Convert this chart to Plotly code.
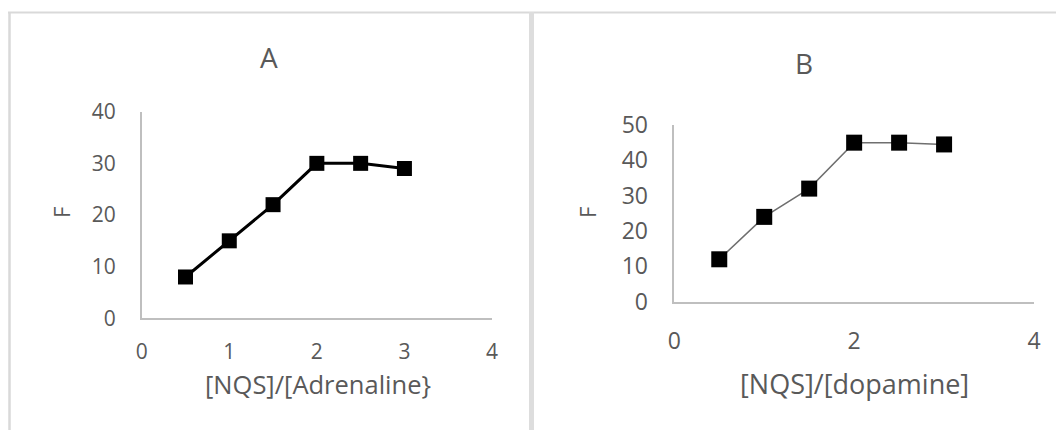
import plotly.graph_objects as go

# Data
ratio_a = [0.5, 1.0, 1.5, 2.0, 2.5, 3.0]
f_adrenaline = [8, 15, 22, 30, 30, 29]
ratio_b = [0.5, 1.0, 1.5, 2.0, 2.5, 3.0]
f_dopamine = [12, 24, 32, 45, 45, 44.5]

title_a = "A"
title_b = "B"
xlabel_a = "[NQS]/[Adrenaline}"
xlabel_b = "[NQS]/[dopamine]"
ylabel = "F"

# page body has an 8px margin: figure sized to fill the remaining window
OFF = 8
W, H = 1064 - OFF, 430 - OFF
FONT = "Open Sans"
TICK = "#595959"
AXL = "#bfbfbf"

def px(x):
    return (x - OFF) / W

def py(y):
    return (H - (y - OFF)) / H

fig = go.Figure()
fig.add_trace(go.Scatter(
    x=ratio_a, y=f_adrenaline, mode="lines+markers",
    line=dict(color="black", width=3),
    marker=dict(symbol="square", size=15, color="black"),
    xaxis="x", yaxis="y", showlegend=False, cliponaxis=False))
fig.add_trace(go.Scatter(
    x=ratio_b, y=f_dopamine, mode="lines+markers",
    line=dict(color="#6f6f6f", width=1.5),
    marker=dict(symbol="square", size=16, color="black"),
    xaxis="x2", yaxis="y2", showlegend=False, cliponaxis=False))

def ax_common(size):
    return dict(showline=True, linecolor=AXL, linewidth=1.5, mirror=False,
                showgrid=False, zeroline=False, ticks="", automargin=False,
                tickfont=dict(family=FONT, size=size, color=TICK))

fig.update_layout(
    template="none",
    width=W, height=H,
    margin=dict(l=0, r=0, t=0, b=0, pad=0, autoexpand=False),
    paper_bgcolor="white", plot_bgcolor="white",
    xaxis=dict(domain=[px(141.7), px(492)], range=[0, 4], dtick=1,
               anchor="y", ticklabelstandoff=14, **ax_common(21)),
    yaxis=dict(domain=[py(318.3), py(111.7)], range=[0, 40], dtick=10,
               anchor="x", ticklabelstandoff=20, **ax_common(21)),
    xaxis2=dict(domain=[px(674.3), px(1034)], range=[0, 4], dtick=2,
                anchor="y2", ticklabelstandoff=18, **ax_common(23)),
    yaxis2=dict(domain=[py(301.7), py(125)], range=[0, 50], dtick=10,
                anchor="x2", ticklabelstandoff=20, **ax_common(23)),
)

def ann(text, x, y, size, angle=0):
    fig.add_annotation(text=text, x=px(x), y=py(y), xref="paper", yref="paper",
                       showarrow=False, xanchor="center", yanchor="middle",
                       textangle=angle,
                       font=dict(family=FONT, size=size, color=TICK))

ann(title_a, 269, 57, 28)
ann(title_b, 804, 63, 28)
ann(xlabel_a, 318, 384, 25.5)
ann(xlabel_b, 854, 383, 27)
ann(ylabel, 61, 213, 22, -90)
ann(ylabel, 587, 213, 22, -90)

# panel borders
BORDER = "#d9d9d9"
fig.add_shape(type="line", xref="paper", yref="paper",
              x0=px(8), x1=px(1064), y0=py(12.5), y1=py(12.5),
              line=dict(color=BORDER, width=2))
fig.add_shape(type="line", xref="paper", yref="paper",
              x0=px(9.5), x1=px(9.5), y0=py(12), y1=py(430),
              line=dict(color=BORDER, width=2.5))
fig.add_shape(type="rect", xref="paper", yref="paper",
              x0=px(529), x1=px(534), y0=py(12), y1=py(430),
              fillcolor="#dddddd", line=dict(width=0))

fig.write_html("out.html")
